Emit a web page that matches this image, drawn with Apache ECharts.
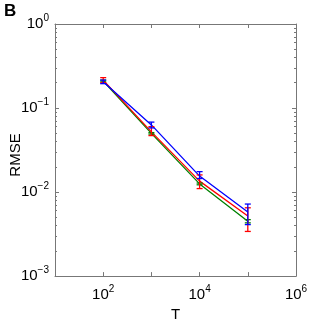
<!DOCTYPE html>
<html><head><meta charset="utf-8">
<script src="https://cdn.jsdelivr.net/npm/echarts@6/dist/echarts.min.js"></script>
<style>html,body{margin:0;padding:0;background:#fff}#c{width:327px;height:327px}</style>
</head><body><div id="c"></div>
<script>
var T = [100, 1000, 10000, 100000];
var greenVals = [0.21, 0.050, 0.0125, 0.0045];
var redVals = [0.215, 0.052, 0.0135, 0.0052];
var blueVals = [0.205, 0.063, 0.0155, 0.0058];
var redLow = [0.200, 0.047, 0.0110, 0.0034];
var redHigh = [0.230, 0.060, 0.0160, 0.0065];
var blueLow = [0.195, 0.058, 0.0145, 0.0041];
var blueHigh = [0.215, 0.068, 0.0175, 0.0072];
var greenLow = [0.205, 0.049, 0.0122, 0.0043];
var greenHigh = [0.215, 0.051, 0.0128, 0.0047];

var chart = echarts.init(document.getElementById('c'));
var axCol = '#777';
var rich = {b:{fontSize:15,color:'#000',fontFamily:'Liberation Sans'}, s:{fontSize:10,color:'#000',fontFamily:'Liberation Sans',verticalAlign:'bottom',padding:[0,0,11,0]}};
function fmt(v){
  var e = Math.round(Math.log10(v));
  return '{b|10}{s|' + (e<0 ? '\u2212'+(-e) : e) + '}';
}
function pairs(vals){ return T.map(function(t,i){return [t, vals[i]];}); }
function errSeries(low, high, color){
  return {
    type:'custom', z:5,
    data: T.map(function(t,i){return [t, low[i], high[i]];}),
    renderItem: function(params, api){
      var lo = api.coord([api.value(0), api.value(1)]);
      var hi = api.coord([api.value(0), api.value(2)]);
      var w = 3;
      var st = {stroke: color, lineWidth: 1.3};
      return {type:'group', children:[
        {type:'line', shape:{x1:lo[0],y1:lo[1],x2:hi[0],y2:hi[1]}, style:st},
        {type:'line', shape:{x1:lo[0]-w,y1:lo[1],x2:lo[0]+w,y2:lo[1]}, style:st},
        {type:'line', shape:{x1:hi[0]-w,y1:hi[1],x2:hi[0]+w,y2:hi[1]}, style:st}
      ]};
    }
  };
}
function lineSeries(vals, color, z){
  return {type:'line', data:pairs(vals), symbol:'none', z:z,
    lineStyle:{color:color, width:1.3}, animation:false};
}
var option = {
  animation:false,
  graphic:[
    {type:'text', left:4, top:3, style:{text:'B', font:'bold 17px "Liberation Sans"', fill:'#000'}},
    {type:'text', x:16, y:155, rotation:Math.PI/2, style:{text:'RMSE', font:'15px "Liberation Sans"', fill:'#000', textAlign:'center', textVerticalAlign:'middle'}}
  ],
  grid:{left:55, top:24, right:31, bottom:41},
  xAxis:[{
    type:'log', logBase:10, min:10, max:1000000, position:'bottom',
    name:'T', nameLocation:'middle', nameGap:25,
    nameTextStyle:{fontSize:15, color:'#000', fontFamily:'Liberation Sans'},
    axisLine:{lineStyle:{color:axCol}}, axisTick:{inside:true, length:4, lineStyle:{color:axCol}},
    minorTick:{show:false}, splitLine:{show:false},
    axisLabel:{margin:8, rich:rich, formatter:function(v){var e=Math.round(Math.log10(v)); return (e%2===0)? fmt(v):'';}}
  },{
    type:'log', logBase:10, min:10, max:1000000, position:'top',
    axisLine:{lineStyle:{color:axCol}}, axisTick:{inside:true, length:4, lineStyle:{color:axCol}},
    axisLabel:{show:false}, splitLine:{show:false}
  }],
  yAxis:[{
    type:'log', logBase:10, min:0.001, max:1, position:'left',
    axisLine:{lineStyle:{color:axCol}}, axisTick:{inside:true, length:4, lineStyle:{color:axCol}},
    minorTick:{show:true, splitNumber:9, length:2, lineStyle:{color:axCol}},
    splitLine:{show:false},
    axisLabel:{margin:6, rich:rich, formatter:fmt}
  },{
    type:'log', logBase:10, min:0.001, max:1, position:'right',
    axisLine:{lineStyle:{color:axCol}}, axisTick:{inside:true, length:4, lineStyle:{color:axCol}},
    minorTick:{show:true, splitNumber:9, length:2, lineStyle:{color:axCol}},
    axisLabel:{show:false}, splitLine:{show:false}
  }],
  series:[
    lineSeries(greenVals, '#008000', 2),
    lineSeries(redVals, '#ff0000', 3),
    lineSeries(blueVals, '#0000ff', 4),
    errSeries(greenLow, greenHigh, '#008000'),
    errSeries(redLow, redHigh, '#ff0000'),
    errSeries(blueLow, blueHigh, '#0000ff')
  ]
};
chart.setOption(option);
</script></body></html>
